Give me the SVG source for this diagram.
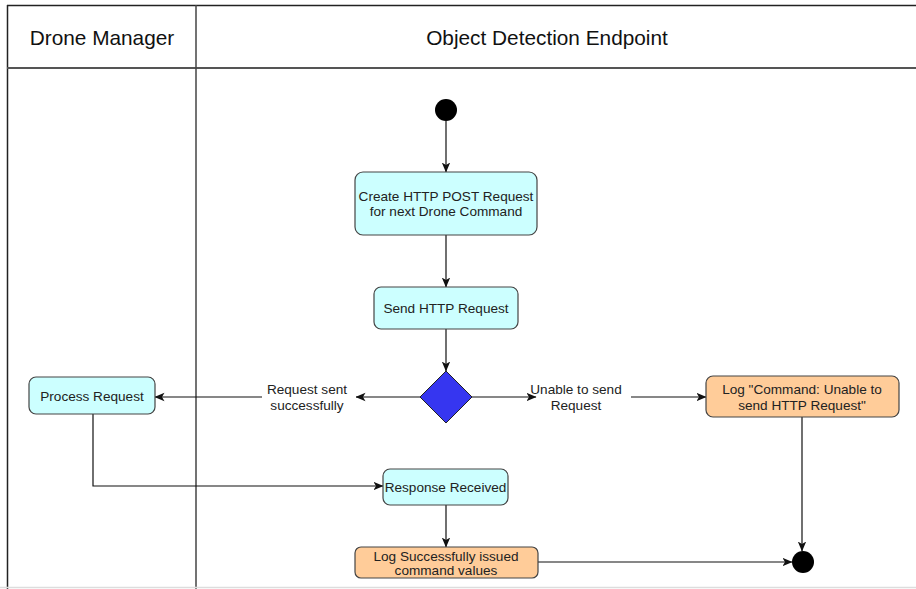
<svg xmlns="http://www.w3.org/2000/svg" width="916" height="589" viewBox="0 0 916 589">
  <style>
    .lane { stroke: #222; stroke-width: 1.5; fill: none; }
    .hdr { font-family: "Liberation Sans", Arial, sans-serif; font-size: 20.8px; fill: #111; text-anchor: middle; }
    .txt { font-family: "Liberation Sans", Arial, sans-serif; font-size: 13.6px; fill: #222; text-anchor: middle; }
    .act { fill: #ccffff; stroke: #444; stroke-width: 1.2; }
    .log { fill: #ffcc99; stroke: #444; stroke-width: 1.2; }
    .edge { stroke: #111; stroke-width: 1.2; fill: none; }
  </style>
  <defs>
    <marker id="arrow" viewBox="0 0 10 10" refX="9.5" refY="5" markerWidth="10" markerHeight="10" markerUnits="userSpaceOnUse" orient="auto">
      <path d="M0,0.8 L10,5 L0,9.2 L2.5,5 Z" fill="#111"/>
    </marker>
  </defs>

  <rect width="916" height="589" fill="#ffffff"/>

  <!-- swimlane frame -->
  <g id="lanes">
    <line class="lane" x1="7" y1="5.5" x2="916" y2="5.5"/>
    <line class="lane" x1="7.5" y1="5" x2="7.5" y2="589"/>
    <line x1="7" y1="68" x2="916" y2="68" stroke="#555" stroke-width="2"/>
    <line x1="196" y1="5" x2="196" y2="589" stroke="#444" stroke-width="1.5"/>
    <line x1="0" y1="587.5" x2="916" y2="587.5" stroke="#dddddd" stroke-width="1.5"/>
    <text class="hdr" x="102" y="44.5">Drone Manager</text>
    <text class="hdr" x="547" y="44.5">Object Detection Endpoint</text>
  </g>

  <!-- connectors -->
  <g id="connectors">
    <line class="edge" x1="446" y1="121" x2="446" y2="172" marker-end="url(#arrow)"/>
    <line class="edge" x1="446" y1="235" x2="446" y2="287" marker-end="url(#arrow)"/>
    <line class="edge" x1="446" y1="329" x2="446" y2="371" marker-end="url(#arrow)"/>
    <line class="edge" x1="421" y1="397" x2="356" y2="397" marker-end="url(#arrow)"/>
    <line class="edge" x1="262" y1="397" x2="155" y2="397" marker-end="url(#arrow)"/>
    <text class="txt" x="307" y="393.5">Request sent</text>
    <text class="txt" x="307" y="409.5">successfully</text>
    <line class="edge" x1="472" y1="397" x2="536" y2="397" marker-end="url(#arrow)"/>
    <line class="edge" x1="631" y1="397" x2="706" y2="397" marker-end="url(#arrow)"/>
    <text class="txt" x="576" y="393.5">Unable to send</text>
    <text class="txt" x="576" y="409.5">Request</text>
    <line class="edge" x1="802" y1="417" x2="802" y2="551" marker-end="url(#arrow)"/>
    <polyline class="edge" points="93,414 93,486 383,486" marker-end="url(#arrow)"/>
    <line class="edge" x1="446" y1="505" x2="446" y2="547" marker-end="url(#arrow)"/>
    <line class="edge" x1="538" y1="562" x2="792" y2="562" marker-end="url(#arrow)"/>
  </g>

  <g id="start">
    <circle cx="446" cy="110" r="11" fill="#000"/>
  </g>

  <g id="create-request">
    <rect class="act" x="355" y="172" width="182" height="63" rx="8"/>
    <text class="txt" x="446" y="200.5">Create HTTP POST Request</text>
    <text class="txt" x="446" y="215.5">for next Drone Command</text>
  </g>

  <g id="send-request">
    <rect class="act" x="374" y="287" width="144" height="42" rx="7"/>
    <text class="txt" x="446" y="312.5">Send HTTP Request</text>
  </g>

  <g id="decision">
    <polygon points="446,371 472,397 446,423 420,397" fill="#3636f0" stroke="#222" stroke-width="1"/>
  </g>

  <g id="process-request">
    <rect class="act" x="29" y="377" width="126" height="37" rx="7"/>
    <text class="txt" x="92" y="400.5">Process Request</text>
  </g>

  <g id="log-failure">
    <rect class="log" x="706" y="376" width="193" height="41" rx="7"/>
    <text class="txt" x="802" y="393.5">Log "Command: Unable to</text>
    <text class="txt" x="802" y="409.5">send HTTP Request"</text>
  </g>

  <g id="response-received">
    <rect class="act" x="383" y="469" width="125" height="36" rx="7"/>
    <text class="txt" x="445.5" y="491.5">Response Received</text>
  </g>

  <g id="log-success">
    <rect class="log" x="355" y="547" width="183" height="31" rx="6"/>
    <text class="txt" x="446" y="560.5">Log Successfully issued</text>
    <text class="txt" x="446" y="574.5">command values</text>
  </g>

  <g id="end">
    <circle cx="803" cy="562" r="11" fill="#000"/>
  </g>
</svg>
